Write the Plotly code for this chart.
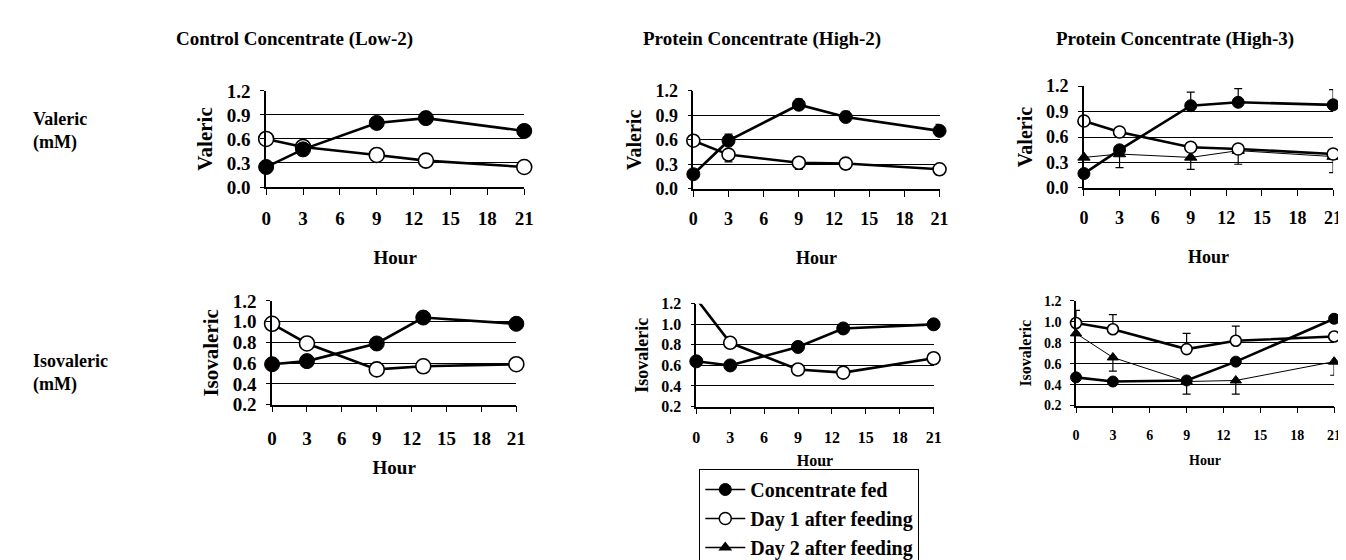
import plotly.graph_objects as go

# ---------------- data ----------------
hours = [0, 3, 9, 13, 21]
x_ticks = [0, 3, 6, 9, 12, 15, 18, 21]

col_titles = ["Control Concentrate (Low-2)", "Protein Concentrate (High-2)", "Protein Concentrate (High-3)"]
row_titles = ["Valeric<br>(mM)", "Isovaleric<br>(mM)"]
series_names = ["Concentrate fed", "Day 1 after feeding", "Day 2 after feeding"]

# Valeric
val_low2_fed = [0.25, 0.47, 0.80, 0.86, 0.70]
val_low2_day1 = [0.60, 0.50, 0.40, 0.33, 0.25]
val_high2_fed = [0.18, 0.59, 1.03, 0.88, 0.71]
val_high2_fed_err = [0, 0.08, 0.07, 0.07, 0.08]
val_high2_day1 = [0.59, 0.42, 0.32, 0.31, 0.24]
val_high2_day1_err = [0, 0.09, 0.08, 0.07, 0.07]
val_high3_fed = [0.17, 0.45, 0.97, 1.01, 0.98]
val_high3_fed_err = [0, 0, 0.16, 0.16, 0.18]
val_high3_day1 = [0.79, 0.66, 0.48, 0.46, 0.40]
val_high3_day2 = [0.36, 0.40, 0.36, 0.44, 0.37]
val_high3_day2_err = [0, 0.16, 0.14, 0.16, 0.19]

# Isovaleric
iso_low2_fed = [0.59, 0.62, 0.79, 1.04, 0.98]
iso_low2_fed_err = [0, 0, 0, 0.06, 0]
iso_low2_day1 = [0.98, 0.79, 0.54, 0.57, 0.59]
iso_high2_fed = [0.64, 0.60, 0.78, 0.96, 1.00]
iso_high2_day1 = [1.25, 0.82, 0.56, 0.53, 0.67]
iso_high3_fed = [0.47, 0.43, 0.44, 0.62, 1.03]
iso_high3_day1 = [0.99, 0.93, 0.74, 0.82, 0.86]
iso_high3_day1_err = [0.12, 0.14, 0.15, 0.14, 0]
iso_high3_day2 = [0.89, 0.66, 0.43, 0.44, 0.62]
iso_high3_day2_err = [0, 0.13, 0.12, 0.13, 0.13]

# significance markers (hours)
sig_val_low2 = [9, 13, 21]
sig_val_high2 = [0, 3, 9, 13, 21]
sig_val_high3 = [0, 3, 9, 13, 21]
sig_iso_low2 = [0, 9, 13, 21]
sig_iso_high2 = [0, 3, 13, 21]
sig_iso_high3 = [0, 3, 9, 13]

# ---------------- layout helpers ----------------
W, H = 1346, 560
FONT = "Liberation Serif"


def xd(x0, x1):
    return [x0 / W, x1 / W]


def yd(y0, y1):
    return [1 - y1 / H, 1 - y0 / H]


panels = [
    dict(xpx=(256, 517), ypx=(78, 181), yr=[0, 1.2], dt=0.3, yt="Valeric", fs=19, ms=15, sig=sig_val_low2, ls=7, ts=23),
    dict(xpx=(688, 937), ypx=(78, 183), yr=[0, 1.2], dt=0.3, yt="Valeric", fs=18, ms=13, sig=sig_val_high2, ls=7, ts=23),
    dict(xpx=(1083, 1335), ypx=(73, 182), yr=[0, 1.2], dt=0.3, yt="Valeric", fs=18, ms=12, sig=sig_val_high3, ls=7, ts=23),
    dict(xpx=(262, 509), ypx=(303, 414), yr=[0.2, 1.2], dt=0.2, yt="Isovaleric", fs=19, ms=15, sig=sig_iso_low2, ls=10, ts=13),
    dict(xpx=(691, 931), ypx=(306, 416), yr=[0.2, 1.2], dt=0.2, yt="Isovaleric", fs=16, ms=13, sig=sig_iso_high2, ls=10, ts=9),
    dict(xpx=(1075, 1336), ypx=(303, 415), yr=[0.2, 1.2], dt=0.2, yt="Isovaleric", fs=14, ms=11, sig=sig_iso_high3, ls=10, ts=13),
]

fig = go.Figure()

black = "#000000"


def add_series(i, y, kind, up=None, down=None, ms=12, showlegend=False):
    n = len(y)
    yr = panels[i]["yr"]
    sizes = [ms if (v <= yr[1] + 1e-9) else 0 for v in y]
    ax = "" if i == 0 else str(i + 1)
    err = None
    if up is not None or down is not None:
        err = dict(type="data", symmetric=False,
                   array=up if up is not None else [0] * n,
                   arrayminus=down if down is not None else [0] * n,
                   color=black, thickness=1.2, width=4)
    if kind == "fed":
        marker = dict(symbol="circle", size=sizes, color=black, opacity=1, line=dict(color=black, width=1))
        line = dict(color=black, width=2.6)
        name = series_names[0]
    elif kind == "day1":
        marker = dict(symbol="circle", size=sizes, color="white", opacity=1, line=dict(color=black, width=1.6))
        line = dict(color=black, width=2.6)
        name = series_names[1]
    else:
        marker = dict(symbol="triangle-up", size=[s * 0.9 for s in sizes], color=black, opacity=1,
                      line=dict(color=black, width=1))
        line = dict(color=black, width=1)
        name = series_names[2]
    fig.add_trace(go.Scatter(
        x=hours, y=y, mode="lines+markers", name=name, legendgroup=kind,
        showlegend=showlegend, marker=marker, line=line, error_y=err,
        cliponaxis=False, xaxis="x" + ax, yaxis="y" + ax, hoverinfo="x+y"))


# panel 1
add_series(0, val_low2_day1, "day1", ms=panels[0]["ms"])
add_series(0, val_low2_fed, "fed", ms=panels[0]["ms"])
# panel 2
add_series(1, val_high2_day1, "day1", down=val_high2_day1_err, ms=panels[1]["ms"])
add_series(1, val_high2_fed, "fed", up=val_high2_fed_err, ms=panels[1]["ms"])
# panel 3
add_series(2, val_high3_day2, "day2", down=val_high3_day2_err, ms=panels[2]["ms"])
add_series(2, val_high3_day1, "day1", ms=panels[2]["ms"])
add_series(2, val_high3_fed, "fed", up=val_high3_fed_err, ms=panels[2]["ms"])
# panel 4
add_series(3, iso_low2_day1, "day1", ms=panels[3]["ms"])
add_series(3, iso_low2_fed, "fed", up=iso_low2_fed_err, ms=panels[3]["ms"])
# panel 5
add_series(4, iso_high2_day1, "day1", ms=panels[4]["ms"])
add_series(4, iso_high2_fed, "fed", ms=panels[4]["ms"])
# panel 6
add_series(5, iso_high3_day2, "day2", down=iso_high3_day2_err, ms=panels[5]["ms"])
add_series(5, iso_high3_day1, "day1", up=iso_high3_day1_err, ms=panels[5]["ms"])
add_series(5, iso_high3_fed, "fed", ms=panels[5]["ms"])

# legend-only traces (proper order)
for kind, nm in zip(["fed", "day1", "day2"], series_names):
    if kind == "fed":
        mk = dict(symbol="circle", size=12, color=black, line=dict(color=black, width=1))
    elif kind == "day1":
        mk = dict(symbol="circle", size=12, color="white", line=dict(color=black, width=1.5))
    else:
        mk = dict(symbol="triangle-up", size=12, color=black)
    fig.add_trace(go.Scatter(x=[None], y=[None], mode="lines+markers", name=nm,
                             marker=mk, line=dict(color=black, width=1.5),
                             showlegend=True, xaxis="x6", yaxis="y6"))

# significance asterisks
for i, p in enumerate(panels):
    ax = "" if i == 0 else str(i + 1)
    span = p["yr"][1] - p["yr"][0]
    hpx = p["ypx"][1] - p["ypx"][0]
    yoff = 9 * span / hpx
    fig.add_trace(go.Scatter(
        x=p["sig"], y=[p["yr"][1] + yoff] * len(p["sig"]), mode="text",
        text=["*"] * len(p["sig"]), textposition="middle center",
        textfont=dict(family=FONT, size=16, color=black),
        cliponaxis=False, showlegend=False, hoverinfo="skip",
        xaxis="x" + ax, yaxis="y" + ax))

layout = dict(
    width=W, height=H,
    margin=dict(l=0, r=0, t=0, b=0),
    paper_bgcolor="white", plot_bgcolor="white",
    font=dict(family=FONT, color=black),
    showlegend=True,
    legend=dict(x=694 / W, y=1 - 483 / H, xanchor="left", yanchor="top",
                bordercolor=black, borderwidth=1, bgcolor="white",
                font=dict(family=FONT, size=20, color=black, weight="bold"),
                itemwidth=40, tracegroupgap=0),
)

for i, p in enumerate(panels):
    ax = "" if i == 0 else str(i + 1)
    layout["xaxis" + ax] = dict(
        domain=xd(*p["xpx"]), anchor="y" + ax, range=[0, 21],
        tickvals=x_ticks, ticktext=[str(t) for t in x_ticks],
        ticks="outside", ticklen=6, tickwidth=1.2, tickcolor=black,
        showline=True, linecolor=black, linewidth=1.5, mirror=False,
        showgrid=False, zeroline=False, ticklabelstandoff=p["ls"],
        tickfont=dict(family=FONT, size=p["fs"], color=black, weight="bold"),
        title=dict(text="Hour", standoff=p["ts"],
                   font=dict(family=FONT, size=p["fs"], color=black, weight="bold")),
    )
    layout["yaxis" + ax] = dict(
        domain=yd(*p["ypx"]), anchor="x" + ax, range=p["yr"], dtick=p["dt"],
        tick0=p["yr"][0], tickformat=".1f",
        ticks="outside", ticklen=4, tickwidth=1, tickcolor=black,
        showline=True, linecolor=black, linewidth=1.5,
        showgrid=True, gridcolor=black, gridwidth=1.2, zeroline=False,
        ticklabelstandoff=6,
        tickfont=dict(family=FONT, size=p["fs"], color=black, weight="bold"),
        title=dict(text=p["yt"], standoff=8,
                   font=dict(family=FONT, size=p["fs"] + 2, color=black, weight="bold")),
    )

annotations = []
col_centers = [285, 757, 1175]
for c, t in zip(col_centers, col_titles):
    annotations.append(dict(text=t, x=c / W, y=1 - 22 / H, xref="paper", yref="paper",
                            showarrow=False, xanchor="center", yanchor="middle",
                            font=dict(family=FONT, size=19, color=black, weight="bold")))
row_y = [121, 380]
for ry, t in zip(row_y, row_titles):
    annotations.append(dict(text=t, x=18 / W, y=1 - ry / H, xref="paper", yref="paper",
                            showarrow=False, xanchor="left", yanchor="middle", align="left",
                            font=dict(family=FONT, size=18, color=black, weight="bold")))
layout["annotations"] = annotations

fig.update_layout(**layout)
fig.write_html("out.html")
